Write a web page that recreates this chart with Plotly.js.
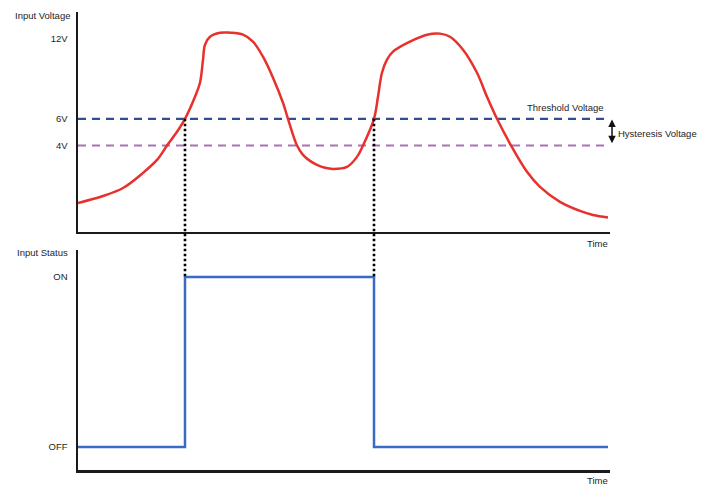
<!DOCTYPE html>
<html>
<head>
<meta charset="utf-8">
<script src="https://cdn.plot.ly/plotly-3.0.1.min.js"></script>
<style>html,body{margin:0;padding:0;background:#fff}#chart{width:710px;height:486px}</style>
</head>
<body>
<div id="chart"></div>
<script>
// ---- data ----
// time axis runs 0..100 (arbitrary units)
const voltTime = [0, 4.70, 8.46, 12.22, 14.85, 16.73, 18.61, 20.11, 21.99, 22.93, 23.50, 23.87, 24.81, 26.69, 28.57, 31.02, 32.89, 34.77, 36.65, 38.53, 39.47, 41.17, 42.29, 43.61, 44.92, 46.43, 47.93, 50.56, 52.44, 53.57, 55.64, 56.39, 57.14, 58.08, 59.21, 62.41, 65.60, 68.05, 69.92, 72.37, 75.00, 76.88, 78.76, 81.40, 84.40, 86.84, 90.60, 94.36, 96.80, 99.62];
const voltValue = [-0.30, 0.22, 0.82, 1.95, 2.92, 4.00, 5.03, 6.00, 7.65, 8.70, 10.43, 11.55, 12.15, 12.45, 12.45, 12.30, 11.78, 10.65, 9.08, 7.20, 6.00, 4.00, 3.30, 2.85, 2.55, 2.33, 2.25, 2.40, 3.15, 4.00, 6.00, 7.65, 9.45, 10.43, 11.03, 11.78, 12.30, 12.38, 12.15, 11.18, 9.45, 7.65, 6.00, 4.00, 2.03, 0.90, -0.22, -0.90, -1.20, -1.39];

const thresholdV = 6;      // Threshold Voltage
const lowerV = 4;          // threshold - hysteresis
const lineTime = [0, 100];

const voltTicks = [4, 6, 12];
const voltTickText = ['4V', '6V', '12V'];

const statusTime = [0, 20.11, 55.64, 99.62];   // switch at the 6V crossings
const statusValue = [0, 1, 0, 0];               // 0 = OFF, 1 = ON
const statusTicks = [0, 1];
const statusTickText = ['OFF', 'ON'];

const switchTimes = [20.11, 55.64];

// ---- layout geometry ----
const topDomain = [0.5197, 1];
const botDomain = [0, 0.4803];
const topRange = [-2.475, 14.0];
const botRange = [-0.1353, 1.1588];
function paperY(v, dom, rng) { return dom[0] + (v - rng[0]) / (rng[1] - rng[0]) * (dom[1] - dom[0]); }

const FONT = 'Liberation Sans, Arial, sans-serif';
const TXT = '#1e1e1e';
const AX = '#1a1a1a';

const traces = [
  {x: lineTime, y: [thresholdV, thresholdV], xaxis: 'x', yaxis: 'y', mode: 'lines',
   line: {color: '#2f4f95', width: 2.2, dash: '8px,6px'}, hoverinfo: 'skip'},
  {x: lineTime, y: [lowerV, lowerV], xaxis: 'x', yaxis: 'y', mode: 'lines',
   line: {color: '#a873b4', width: 2.2, dash: '8px,6px'}, hoverinfo: 'skip'},
  {x: voltTime, y: voltValue, xaxis: 'x', yaxis: 'y', mode: 'lines',
   line: {color: '#e8302c', width: 2.5, shape: 'spline', smoothing: 1.0}},
  {x: statusTime, y: statusValue, xaxis: 'x2', yaxis: 'y2', mode: 'lines',
   line: {color: '#3b6ac6', width: 2.5, shape: 'hv'}}
];

const shapes = switchTimes.map(t => ({
  type: 'line', xref: 'x', yref: 'paper',
  x0: t, x1: t,
  y0: paperY(thresholdV, topDomain, topRange),
  y1: paperY(1, botDomain, botRange),
  line: {color: '#000', width: 2.6, dash: '2.5px,2.5px'}
}));

const axisCommon = {showgrid: false, zeroline: false, showline: true, linecolor: AX, linewidth: 2.5};

const layout = {
  width: 710, height: 486,
  margin: {l: 78, r: 100, t: 12, b: 16},
  paper_bgcolor: '#fff', plot_bgcolor: '#fff',
  showlegend: false,
  font: {family: FONT, size: 9.5, color: TXT},
  xaxis: Object.assign({}, axisCommon, {range: [0, 100], anchor: 'y', showticklabels: false, ticks: ''}),
  yaxis: Object.assign({}, axisCommon, {domain: topDomain, range: topRange, anchor: 'x',
    tickmode: 'array', tickvals: voltTicks, ticktext: voltTickText,
    ticks: 'outside', ticklen: 6, tickcolor: 'rgba(0,0,0,0)'}),
  xaxis2: Object.assign({}, axisCommon, {range: [0, 100], anchor: 'y2', showticklabels: false, ticks: ''}),
  yaxis2: Object.assign({}, axisCommon, {domain: botDomain, range: botRange, anchor: 'x2',
    tickmode: 'array', tickvals: statusTicks, ticktext: statusTickText,
    ticks: 'outside', ticklen: 6, tickcolor: 'rgba(0,0,0,0)'}),
  shapes: shapes,
  annotations: [
    {text: 'Input Voltage', xref: 'paper', yref: 'paper', x: -0.0113, y: 0.9934, xanchor: 'right', yanchor: 'middle', showarrow: false},
    {text: 'Input Status', xref: 'paper', yref: 'paper', x: -0.015, y: 0.4738, xanchor: 'right', yanchor: 'middle', showarrow: false},
    {text: 'Time', xref: 'paper', yref: 'paper', x: 1.0, y: 0.4956, xanchor: 'right', yanchor: 'middle', showarrow: false},
    {text: 'Time', xref: 'paper', yref: 'paper', x: 1.0, y: -0.024, xanchor: 'right', yanchor: 'middle', showarrow: false},
    {text: 'Threshold Voltage', xref: 'paper', yref: 'y', x: 0.9925, y: thresholdV + 0.85, xanchor: 'right', yanchor: 'middle', showarrow: false},
    {text: 'Hysteresis Voltage', xref: 'paper', yref: 'y', x: 1.0105, y: (thresholdV + lowerV) / 2 - 0.1, xanchor: 'left', yanchor: 'middle', showarrow: false},
    {text: '', xref: 'paper', yref: 'y', axref: 'pixel', ayref: 'y', x: 1.0038, y: thresholdV - 0.05, ax: 0, ay: lowerV + 0.05,
     showarrow: true, arrowhead: 2, startarrowhead: 2, arrowside: 'end+start', arrowsize: 1, startarrowsize: 1, arrowwidth: 1.5, arrowcolor: '#111'}
  ]
};

Plotly.newPlot('chart', traces, layout, {staticPlot: true, displayModeBar: false});
</script>
</body>
</html>
